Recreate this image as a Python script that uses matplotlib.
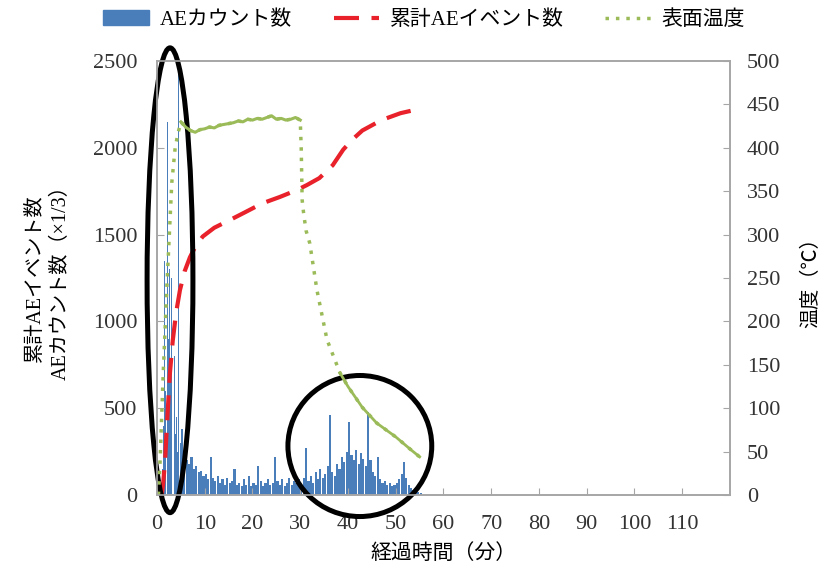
import matplotlib
matplotlib.use("Agg")
import matplotlib.pyplot as plt
import numpy as np
from matplotlib.patches import Ellipse, Patch
from matplotlib.lines import Line2D

plt.rcParams['font.family'] = ['Liberation Serif', 'Noto Sans CJK JP']

# AE counts (x1/3), early part at 0.25 min bins
early_t = np.arange(0, 5, 0.25)
early_counts = [0, 0, 0, 20, 150, 400, 1350, 600, 2150, 900,
                1300, 700, 1250, 500, 800, 350, 450, 250, 2450, 300]

# AE counts after 5 min, 0.5 min bins
late_t = np.arange(5, 55.5, 0.5)
late_counts = [380, 250, 200, 180, 220, 150, 170, 130, 140, 110,
               120, 90, 220, 100, 80, 110, 70, 90, 60, 100,
               70, 80, 150, 60, 70, 50, 90, 60, 110, 50,
               70, 60, 165, 80, 50, 70, 90, 60, 70, 220,
               80, 60, 90, 50, 70, 100, 60, 80, 70, 90,
               60, 100, 270, 80, 110, 70, 130, 90, 150, 100,
               120, 170, 460, 130, 110, 180, 150, 220, 190, 250,
               420, 230, 200, 260, 180, 240, 210, 170, 480, 200,
               130, 110, 220, 90, 70, 80, 60, 70, 50, 60,
               70, 90, 120, 190, 100, 60, 40, 30, 30, 20,
               10]

# cumulative AE events
cum_t = [1.0, 1.3, 1.7, 2.1, 2.7, 3.3, 4.0, 4.8, 5.8, 6.9, 8.2, 9.6, 12, 15.3,
         18.5, 22, 25.7, 29.3, 31.4, 34, 36.8, 39, 41, 43, 47, 51, 55]
cum_v = [0, 70, 200, 415, 700, 890, 1050, 1180, 1290, 1370, 1440, 1490, 1540, 1585,
         1630, 1680, 1717, 1757, 1786, 1826, 1900, 1990, 2050, 2100, 2160, 2200, 2225]

# surface temperature
temp_t = [0.3, 0.6, 1.3, 2.1, 3.1, 3.8, 4.4, 5.0,
          6, 7, 8, 9, 10, 11, 12, 13, 14, 15, 16, 17, 18, 19, 20, 21, 22, 23, 24,
          25, 26, 27, 28, 29, 30,
          30.2, 30.4, 30.7, 31.2, 32, 33.5, 35.6, 38.3, 40, 43, 46, 50, 53, 55]
temp_v = [0, 32, 140, 244, 360, 400, 417, 430,
          424, 420, 418, 421, 422, 424, 423, 426, 427, 428, 429, 431, 430, 433, 432, 434, 433, 435, 437,
          433, 434, 432, 433, 435, 432,
          400, 340, 325, 305, 290, 236, 179, 141, 125, 101, 83, 67, 53, 44]

blue = '#4a7ebb'
red = '#e8212a'
green = '#9bbb59'
grey = '#a6a6a6'

fig = plt.figure(figsize=(8.32, 5.71), dpi=100)
ax = fig.add_axes([0.1887, 0.133, 0.6887, 0.760])
ax2 = ax.twinx()

ax.bar(early_t, early_counts, width=0.2, align='edge', color=blue, linewidth=0)
ax.bar(late_t, late_counts, width=0.45, align='edge', color=blue, linewidth=0)
ax.plot(cum_t, cum_v, color=red, lw=3, dashes=(6, 3), zorder=5)

ax2.plot(temp_t, temp_v, color=green, lw=2.5, dashes=(1, 2))
ax2.plot(temp_t[7:33], temp_v[7:33], color=green, lw=2.2)
ax2.plot(temp_t[40:], temp_v[40:], color=green, lw=2.0)

ax.set_xlim(0, 120)
ax.set_ylim(0, 2500)
ax2.set_ylim(0, 500)
ax.set_xticks(np.arange(0, 111, 10))
ax.set_yticks(np.arange(0, 2501, 500))
ax2.set_yticks(np.arange(0, 501, 50))

for a in (ax, ax2):
    for s in a.spines.values():
        s.set_color(grey)
        s.set_linewidth(1.2)
ax.tick_params(direction='in', color=grey, labelsize=16, labelcolor='#333333', length=5)
ax2.tick_params(direction='in', color=grey, labelsize=16, labelcolor='#333333', length=5, pad=12)
ax.tick_params(axis='y', pad=14)
ax.tick_params(axis='x', pad=14)

ax.set_xlabel('経過時間（分）', fontsize=15, labelpad=8)
ax.set_ylabel('累計AEイベント数\nAEカウント数（×1/3）', fontsize=14.5, labelpad=16, linespacing=1.5)
ax2.set_ylabel('温度（℃）', fontsize=14.5, rotation=90, labelpad=16)

ax.add_patch(Ellipse((0.0227, 0.495), 0.080, 1.071, transform=ax.transAxes,
                     fill=False, ec='black', lw=3.6, clip_on=False, zorder=10))
ax.add_patch(Ellipse((0.354, 0.113), 0.251, 0.325, transform=ax.transAxes,
                     fill=False, ec='black', lw=3.6, clip_on=False, zorder=10))

handles = [Patch(color=blue),
           Line2D([], [], color=red, lw=3, dashes=(6, 3)),
           Line2D([], [], color=green, lw=2.5, dashes=(1, 2))]
labels = ['AEカウント数', '累計AEイベント数', '表面温度']
fig.legend(handles, labels, loc='center', bbox_to_anchor=(0.51, 0.965), ncol=3,
           frameon=False, fontsize=15, columnspacing=2.0, handlelength=2.2,
           handletextpad=0.5)

fig.savefig('out.png', dpi=100)
